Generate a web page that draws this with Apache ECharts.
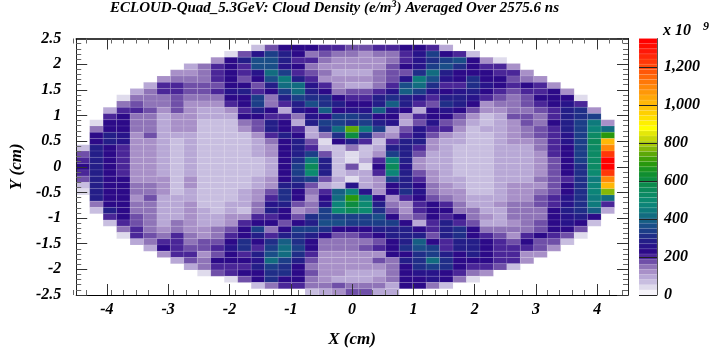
<!DOCTYPE html>
<html><head><meta charset="utf-8">
<style>html,body{margin:0;padding:0;background:#fff}#c{width:721px;height:364px}</style>
<script src="https://cdn.jsdelivr.net/npm/echarts@6/dist/echarts.min.js"></script>
</head><body><div id="c"></div>
<script>
const xMajorTicks = [-4,-3,-2,-1,0,1,2,3,4];
const xMinorTicks = [-4.4,-4.2,-3.8,-3.6,-3.4,-3.2,-2.8,-2.6,-2.4,-2.2,-1.8,-1.6,-1.4,-1.2,-0.8,-0.6,-0.4,-0.2,0.2,0.4,0.6,0.8,1.2,1.4,1.6,1.8,2.2,2.4,2.6,2.8,3.2,3.4,3.6,3.8,4.2,4.4];
const xRange = [-4.5, 4.5];
const yRange = [-2.5, 2.5];
const binCount = 41;
const paletteStep = 27;
const palette = ['#f6f4fa','#dfdbec','#c8bee0','#b8a8d6','#a890c8','#8f74b8','#6f4fa8','#4a2698','#2c0a88','#28148a','#241e88','#202e88','#1c3e88','#1a4e88','#165e84','#126c80','#0e7a7c','#0c8478','#0c8a70','#0c8a64','#0c8a5a','#0c8a4c','#0c8c40','#108e30','#1a9420','#28980e','#40a008','#5ca808','#84b808','#a8c808','#c8d808','#e4e808','#ffff00','#fff000','#ffe000','#ffd000','#ffc408','#ffb808','#ffa808','#ff9808','#ff8808','#ff7808','#ff6808','#ff5808','#ff4808','#ff3808','#ff2808','#ff1808','#ff0c00','#ff0000'];
// Cloud density (x 1e9 e/m^3), rows run from the top of the plot to the bottom, columns from left to right.
const densityRows = [
[],
[0,0,0,0,0,0,0,0,0,0,0,0,0,60,185,220,220,220,190,190,185,180,190,215,220,220,190,85],
[0,0,0,0,0,0,0,0,0,0,0,40,185,250,340,270,240,160,170,140,135,130,160,160,215,250,340,240,215,80],
[0,0,0,0,0,0,0,0,0,0,130,225,290,360,370,270,190,190,140,120,120,115,125,150,195,250,300,340,360,225,130,40],
[0,0,0,0,0,0,0,0,85,150,205,230,210,360,370,260,225,160,130,125,110,115,130,170,220,260,340,360,300,225,215,190,130],
[0,0,0,0,0,0,0,130,130,160,215,230,215,260,430,330,190,185,150,90,85,90,150,185,185,300,420,290,240,230,220,215,215,120],
[0,0,0,0,0,0,120,160,150,140,190,230,185,230,370,440,270,190,130,120,110,125,135,185,260,440,370,250,240,320,240,220,185,160,130],
[0,0,0,0,0,85,205,190,165,165,180,230,230,175,290,430,430,250,190,130,95,100,150,215,370,410,300,190,215,300,250,220,190,220,205,130],
[0,0,0,0,85,150,200,190,165,165,190,250,290,190,225,330,420,280,225,150,170,165,215,250,400,330,250,225,250,290,225,190,165,215,190,220,130],
[0,0,0,45,160,160,150,180,140,135,160,240,230,330,150,290,330,300,310,220,200,190,290,300,290,260,190,290,290,260,215,165,160,185,220,225,240,40],
[0,0,0,135,180,150,135,175,125,120,130,190,220,330,150,200,290,360,320,290,240,220,280,380,270,190,180,300,290,220,130,150,150,165,200,220,250,215],
[0,0,85,190,190,165,130,170,125,90,90,130,200,290,220,95,260,230,380,240,250,250,400,250,230,100,230,250,220,165,110,120,160,150,165,205,280,320,130],
[0,0,190,220,150,150,90,120,110,90,90,90,225,225,205,190,135,250,220,340,340,300,220,220,130,190,230,230,180,120,80,85,165,165,160,210,270,310,330],
[0,45,220,220,150,150,100,110,110,70,70,70,140,170,280,230,95,290,340,340,320,340,290,250,100,180,260,185,140,100,80,85,125,165,160,220,270,330,450,130],
[0,140,220,220,150,150,100,110,110,70,70,70,110,165,285,230,215,100,300,430,730,440,330,100,170,250,205,190,130,70,85,90,130,140,165,190,270,340,480,430],
[0,230,280,250,130,165,100,85,100,70,70,70,70,120,190,270,220,90,160,300,620,320,160,110,190,250,170,130,90,70,75,90,130,140,170,210,250,340,520,700],
[0,230,280,250,130,130,100,60,100,70,70,70,70,95,150,240,280,185,50,220,290,215,55,215,290,290,110,90,85,70,70,90,110,110,150,200,250,340,560,1000],
[60,280,240,215,130,130,100,65,100,75,75,75,75,95,125,230,290,200,55,65,150,65,85,280,290,215,130,90,80,70,70,85,95,105,140,190,225,330,520,1090],
[170,280,240,215,130,130,100,65,100,75,75,75,75,95,115,230,290,350,170,65,30,60,110,350,280,175,100,85,70,70,70,85,100,100,130,190,225,330,530,1230],
[215,280,240,215,130,130,100,65,100,75,75,75,75,65,100,230,320,440,290,60,45,85,190,460,270,125,100,85,65,65,70,85,90,95,120,185,225,325,530,1330],
[225,280,240,215,130,130,100,65,100,70,70,70,70,65,100,225,330,550,290,60,165,45,220,560,260,130,100,100,65,65,70,90,90,95,120,180,225,320,520,1330],
[215,290,240,215,130,130,105,65,100,75,75,75,75,65,100,230,330,490,290,65,85,85,200,470,290,185,130,100,65,65,70,90,90,100,125,180,225,320,500,1230],
[170,290,230,225,130,130,110,75,110,75,75,75,75,85,115,240,320,340,170,85,50,85,130,340,290,200,120,100,85,65,65,95,95,105,135,180,215,310,450,1090],
[60,280,230,225,150,150,110,65,110,75,75,75,75,100,125,290,290,170,100,65,260,85,110,225,290,225,140,110,100,65,65,100,125,125,130,180,225,300,480,1000],
[35,270,240,240,150,150,110,65,100,75,75,75,90,130,170,320,240,140,210,390,460,250,110,225,300,250,140,120,110,65,65,100,130,130,160,185,230,300,460,770],
[0,270,240,225,120,165,100,95,100,75,75,75,85,130,190,300,240,110,225,420,680,450,220,110,215,230,170,135,115,85,85,95,130,130,170,190,250,300,450,420],
[0,150,240,240,150,150,100,95,120,75,75,90,105,135,260,290,170,140,260,480,620,500,290,150,125,190,240,210,135,100,95,110,150,150,170,215,260,310,440,215],
[0,75,270,240,150,150,100,100,110,85,70,100,75,150,270,225,130,150,330,490,540,500,320,170,125,190,220,230,160,150,90,90,140,150,160,225,270,320,380,85],
[0,0,190,225,180,150,100,100,120,90,100,110,120,200,215,230,170,300,340,350,340,340,360,240,160,180,220,215,240,160,110,100,150,150,160,225,250,290,220],
[0,0,75,190,185,160,90,140,130,90,100,130,210,220,230,165,225,270,360,370,340,340,340,330,230,90,210,290,200,170,100,100,130,150,165,220,250,225,60],
[0,0,0,150,190,160,120,160,125,130,140,185,240,330,150,225,330,330,310,220,240,240,290,290,280,225,190,290,300,225,150,150,140,160,170,220,220,165],
[0,0,0,40,190,170,135,190,135,130,140,215,240,280,190,280,300,270,225,170,170,190,225,280,280,285,175,280,300,230,190,180,130,190,225,190,180,45],
[0,0,0,0,90,140,210,190,140,165,165,225,300,220,300,380,310,230,140,160,140,150,170,230,290,380,230,215,290,290,220,190,170,225,170,165,75],
[0,0,0,0,0,85,225,190,170,165,190,250,300,190,340,430,330,230,150,160,150,170,200,230,300,360,340,200,290,290,230,200,200,200,170,110],
[0,0,0,0,0,0,130,200,200,125,185,230,190,270,360,430,300,215,120,130,125,125,130,220,240,300,330,290,220,290,225,200,200,130,110],
[0,0,0,0,0,0,0,95,165,150,225,225,225,260,430,330,290,180,125,130,120,125,170,150,290,320,430,300,230,240,225,215,215,110],
[0,0,0,0,0,0,0,0,85,150,215,190,215,290,350,300,225,160,120,120,110,125,110,160,220,300,340,300,225,215,190,165,75],
[0,0,0,0,0,0,0,0,0,40,170,190,225,230,320,300,225,170,110,110,90,90,100,150,220,250,250,225,210,135,125],
[0,0,0,0,0,0,0,0,0,0,0,45,165,220,300,230,225,150,120,100,90,90,115,160,220,220,250,240,140,40],
[0,0,0,0,0,0,0,0,0,0,0,0,0,70,140,215,215,150,150,170,160,150,160,100,220,220,140,80],
[0,0,0,0,0,0,0,0,0,0,0,0,0,0,0,0,0,70,90,130,170,170,100,90]
];
const colorbarMax = 1350;

const binW = (xRange[1]-xRange[0])/binCount, binH = (yRange[1]-yRange[0])/binCount;
const cells = [];
densityRows.forEach((row,i)=>row.forEach((v,j)=>{ if(v>0) cells.push([xRange[0]+(j+.5)*binW, yRange[1]-(i+.5)*binH, v]); }));
const colorOf = v => palette[Math.min(palette.length-1, Math.floor(v/paletteStep))];
const barCells = palette.map((c,i)=>[0, i*paletteStep, (i+1)*paletteStep]);

const F = 'Liberation Serif';
const lab = s => ({fontFamily:F,fontWeight:'bold',fontStyle:'italic',fontSize:s,color:'#000'});
const tickCol = '#333';
const grid = {left:67.5,right:721-628,top:38.5,bottom:364-295,containLabel:false};

const chart = echarts.init(document.getElementById('c'),null,{renderer:'canvas'});
chart.setOption({
  animation:false,
  backgroundColor:'#fff',
  title:[
    {left:110,top:-1,padding:0,text:'{t|ECLOUD-Quad_5.3GeV: Cloud Density (e/m}{s|3}{t|) Averaged Over 2575.6 ns}',
     textStyle:{rich:{t:Object.assign(lab(15),{lineHeight:18}),s:Object.assign(lab(10),{verticalAlign:'top',lineHeight:12})}}},
    {left:663,top:23,padding:0,text:'x 10',textStyle:lab(16)},
    {left:703,top:21,padding:0,text:'9',textStyle:lab(12)}
  ],
  grid:[grid,grid,{left:639,right:721-657,top:38.5,bottom:364-295}],
  xAxis:[
    {gridIndex:0,type:'value',position:'bottom',min:xRange[0],max:xRange[1],z:5,
     name:'X (cm)',nameLocation:'middle',nameGap:36,nameTextStyle:lab(17),
     axisLine:{show:true,onZero:false,lineStyle:{color:'#000',width:1}},splitLine:{show:false},
     axisTick:{show:true,inside:true,length:11,customValues:xMajorTicks,lineStyle:{color:tickCol}},
     axisLabel:Object.assign(lab(16),{margin:7,customValues:xMajorTicks,hideOverlap:false})},
    {gridIndex:0,type:'value',position:'top',min:xRange[0],max:xRange[1],z:5,
     axisLine:{show:true,onZero:false,lineStyle:{color:'#000',width:1.5}},splitLine:{show:false},
     axisTick:{show:true,inside:true,length:11,customValues:xMajorTicks,lineStyle:{color:tickCol}},
     axisLabel:{show:false}},
    {gridIndex:1,type:'value',position:'bottom',min:xRange[0],max:xRange[1],z:5,
     axisLine:{show:false,onZero:false},splitLine:{show:false},
     axisTick:{show:true,inside:true,length:5,customValues:xMinorTicks,lineStyle:{color:'#666'}},axisLabel:{show:false}},
    {gridIndex:1,type:'value',position:'top',min:xRange[0],max:xRange[1],z:5,
     axisLine:{show:false,onZero:false},splitLine:{show:false},
     axisTick:{show:true,inside:true,length:5,customValues:xMinorTicks,lineStyle:{color:'#666'}},axisLabel:{show:false}},
    {gridIndex:2,type:'value',min:0,max:1,show:false}
  ],
  yAxis:[
    {gridIndex:0,type:'value',position:'left',min:yRange[0],max:yRange[1],interval:0.5,z:5,
     name:'Y (cm)',nameLocation:'middle',nameGap:41,nameTextStyle:lab(17),
     axisLine:{show:true,onZero:false,lineStyle:{color:'#222',width:1}},splitLine:{show:false},
     axisTick:{show:true,inside:true,length:11,lineStyle:{color:tickCol}},
     minorTick:{show:true,splitNumber:5,length:5,lineStyle:{color:'#666'}},minorSplitLine:{show:false},
     axisLabel:Object.assign(lab(16),{margin:15})},
    {gridIndex:0,type:'value',position:'right',min:yRange[0],max:yRange[1],interval:0.5,z:5,
     axisLine:{show:true,onZero:false,lineStyle:{color:'#222',width:1}},splitLine:{show:false},
     axisTick:{show:true,inside:true,length:11,lineStyle:{color:tickCol}},
     minorTick:{show:true,splitNumber:5,length:5,lineStyle:{color:'#666'}},axisLabel:{show:false}},
    {gridIndex:1,type:'value',min:yRange[0],max:yRange[1],show:false},
    {gridIndex:2,type:'value',position:'right',min:0,max:colorbarMax,interval:200,z:5,
     axisLine:{show:true,onZero:false,lineStyle:{color:'#555',width:1}},splitLine:{show:false},
     axisTick:{show:true,inside:true,length:18,lineStyle:{color:'#222',width:1}},
     axisLabel:Object.assign(lab(16),{margin:7,showMaxLabel:false})}
  ],
  series:[
    {type:'custom',coordinateSystem:'cartesian2d',xAxisIndex:0,yAxisIndex:0,clip:true,silent:true,
     data:cells,encode:{x:0,y:1},
     renderItem:(p,api)=>{
       const x=api.value(0),y=api.value(1),v=api.value(2);
       const a=api.coord([x-binW/2,y+binH/2]),b=api.coord([x+binW/2,y-binH/2]);
       return {type:'rect',shape:{x:a[0],y:a[1],width:b[0]-a[0],height:b[1]-a[1]},
               style:{fill:colorOf(v),stroke:'rgba(255,255,255,0.1)',lineWidth:1}};
     }},
    {type:'custom',coordinateSystem:'cartesian2d',xAxisIndex:4,yAxisIndex:3,silent:true,
     data:barCells,encode:{y:[1,2]},
     renderItem:(p,api)=>{
       const a=api.coord([0,api.value(2)]),b=api.coord([1,api.value(1)]);
       return {type:'rect',shape:{x:a[0],y:a[1],width:b[0]-a[0],height:b[1]-a[1]},
               style:{fill:palette[p.dataIndex],stroke:'rgba(255,255,255,0.08)',lineWidth:1}};
     }}
  ]
});
</script></body></html>
